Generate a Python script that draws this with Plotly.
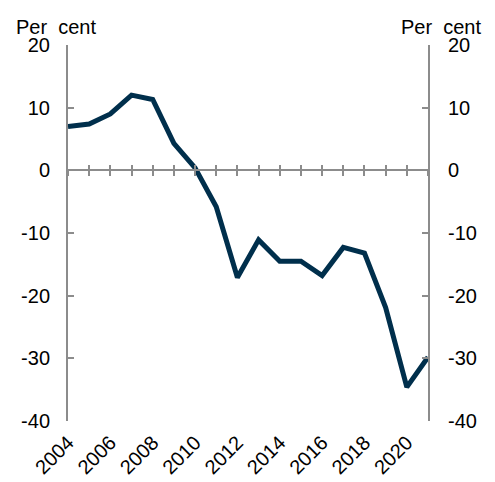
import plotly.graph_objects as go

years = list(range(2004, 2022))
values = [7.0, 7.4, 9.0, 12.0, 11.3, 4.3, 0.4, -5.8, -17.1, -11.1,
          -14.5, -14.5, -16.8, -12.3, -13.2, -21.9, -34.6, -29.8]
year_ticks = list(range(2004, 2021, 2))
y_ticks = [20, 10, 0, -10, -20, -30, -40]
y_labels = [str(v) for v in y_ticks]  # plain hyphen minus like the original

axis_grey = "#8c8c8c"
font = dict(family="Liberation Sans, Arial, sans-serif", size=20, color="black")

fig = go.Figure()
fig.add_trace(go.Scatter(x=years, y=values, mode="lines",
                         line=dict(color="#002f4c", width=5),
                         showlegend=False, hoverinfo="skip"))

# page body adds ~8px offset, so margins are shifted to compensate
fig.update_layout(
    width=495, height=482,
    margin=dict(l=60, r=75, t=37, b=69, autoexpand=False),
    paper_bgcolor="white", plot_bgcolor="white",
    font=font,
    xaxis=dict(range=[2004, 2021], tickvals=year_ticks, ticktext=[str(v) for v in year_ticks],
               tickangle=-45, showline=False, ticks="", showgrid=False, zeroline=False,
               automargin=False, ticklabelstandoff=5),
    # axis line at y=0 with crossing ticks (two overlays)
    xaxis2=dict(range=[2004, 2021], overlaying="x", anchor="free", position=2 / 3,
                showline=True, linecolor=axis_grey, linewidth=2, dtick=1, tick0=2004,
                ticks="outside", ticklen=5, tickwidth=2, tickcolor=axis_grey,
                showticklabels=False, showgrid=False, zeroline=False, automargin=False),
    xaxis3=dict(range=[2004, 2021], overlaying="x", anchor="free", position=2 / 3,
                showline=False, dtick=1, tick0=2004,
                ticks="inside", ticklen=5, tickwidth=2, tickcolor=axis_grey,
                showticklabels=False, showgrid=False, zeroline=False, automargin=False),
    yaxis=dict(range=[-40, 20], tickvals=y_ticks, ticktext=y_labels, showline=True,
               linecolor=axis_grey, linewidth=2, ticks="inside", ticklen=6, tickwidth=2,
               tickcolor=axis_grey, showgrid=False, zeroline=False, automargin=False,
               ticklabelstandoff=12),
    yaxis2=dict(range=[-40, 20], tickvals=y_ticks, ticktext=y_labels, overlaying="y",
                side="right", showline=True, linecolor=axis_grey, linewidth=2,
                ticks="inside", ticklen=6, tickwidth=2, tickcolor=axis_grey,
                showgrid=False, zeroline=False, automargin=False, ticklabelstandoff=14),
    annotations=[
        dict(text="Per  cent", x=0, xref="paper", xanchor="left", xshift=-54,
             y=1, yref="paper", yanchor="bottom", yshift=5, showarrow=False),
        dict(text="Per  cent", x=1, xref="paper", xanchor="left", xshift=-29,
             y=1, yref="paper", yanchor="bottom", yshift=5, showarrow=False),
    ],
)

# dummy traces so the overlay axes render
fig.add_trace(go.Scatter(x=[None], y=[None], xaxis="x2", yaxis="y2", showlegend=False))
fig.add_trace(go.Scatter(x=[None], y=[None], xaxis="x3", yaxis="y", showlegend=False))

fig.write_html("out.html")
